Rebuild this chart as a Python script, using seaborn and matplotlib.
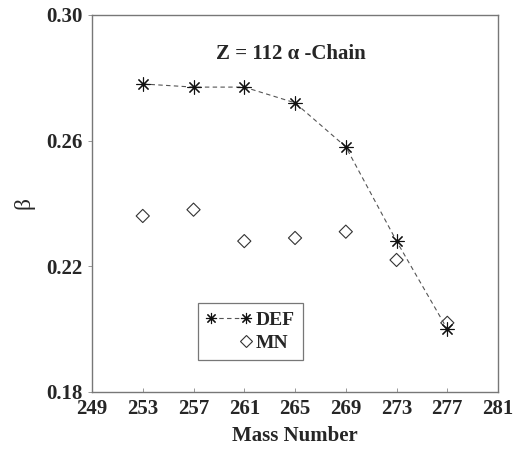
import pandas as pd
import seaborn as sns
import matplotlib.pyplot as plt
from matplotlib.lines import Line2D
from matplotlib.legend_handler import HandlerLine2D

# dados
massa = [253, 257, 261, 265, 269, 273, 277]
beta_def = [0.278, 0.277, 0.277, 0.272, 0.258, 0.228, 0.200]
beta_mn = [0.236, 0.238, 0.228, 0.229, 0.231, 0.222, 0.202]
x_ticks = [249, 253, 257, 261, 265, 269, 273, 277, 281]
y_ticks = [0.18, 0.22, 0.26, 0.30]

tabela = pd.DataFrame({'massa': massa, 'DEF': beta_def, 'MN': beta_mn})


# marcador do MN fica na ponta direita da legenda
class HandlerDireita(HandlerLine2D):
    def get_xdata(self, legend, xdescent, ydescent, width, height, fontsize):
        xd, xm = super().get_xdata(legend, xdescent, ydescent, width, height, fontsize)
        fim = -xdescent + width - self._marker_pad * fontsize
        return [fim, fim], [fim]


sns.set_style('ticks')
plt.rcParams['font.family'] = ['Liberation Serif', 'DejaVu Serif']
plt.rcParams['font.weight'] = 'bold'

fig = plt.figure(figsize=(5.14, 4.49), dpi=100)
ax = fig.add_axes([0.179, 0.127, 0.79, 0.84])

asterisco = (8, 2, 0)
sns.lineplot(data=tabela, x='massa', y='DEF', ax=ax, color='#555555', lw=0.8,
             linestyle=(0, (4, 3)), marker=asterisco, markersize=10,
             markeredgecolor='#111111', markeredgewidth=0.8)
sns.scatterplot(data=tabela, x='massa', y='MN', ax=ax, marker='D', s=45,
                facecolor='none', edgecolor='#333333', linewidth=0.8)

ax.set_xlim(249, 281)
ax.set_ylim(0.18, 0.30)
ax.set_xticks(x_ticks)
ax.set_yticks(y_ticks)
ax.set_xticklabels([str(v) for v in x_ticks], fontsize=15, fontweight='bold')
ax.set_yticklabels(['%.2f' % v for v in y_ticks], fontsize=15, fontweight='bold')
ax.tick_params(axis='x', direction='in', length=3, width=0.6, pad=5, color='#888888')
ax.tick_params(axis='y', direction='out', length=3, width=0.6, pad=4, color='#888888')
for s in ax.spines.values():
    s.set_color('#777777')
    s.set_linewidth(1.0)

ax.set_xlabel('Mass Number', fontsize=15, fontweight='bold', labelpad=5)
ax.set_ylabel('β', fontsize=17, fontweight='normal', labelpad=8)

ax.text(0.49, 0.897, 'Z = 112 α -Chain', transform=ax.transAxes, ha='center',
        va='center', fontsize=15, fontweight='bold')

h_def = Line2D([], [], color='#555555', lw=0.8, linestyle=(0, (4, 3)),
               marker=asterisco, markersize=8, markeredgecolor='#111111',
               markeredgewidth=0.8)
h_mn = Line2D([], [], linestyle='none', marker='D', markersize=6,
              markerfacecolor='none', markeredgecolor='#333333',
              markeredgewidth=0.8)
leg = ax.legend([h_def, h_mn], ['DEF', 'MN'], loc='lower left',
                bbox_to_anchor=(0.26, 0.085), numpoints=2, frameon=True,
                fancybox=False, edgecolor='#555555', handlelength=2.4,
                handletextpad=0.2, borderpad=0.4, labelspacing=0.3,
                borderaxespad=0, prop={'weight': 'bold', 'size': 14},
                handler_map={h_mn: HandlerDireita(numpoints=1)})
leg.get_frame().set_linewidth(0.9)

fig.savefig('out.png', dpi=100)
